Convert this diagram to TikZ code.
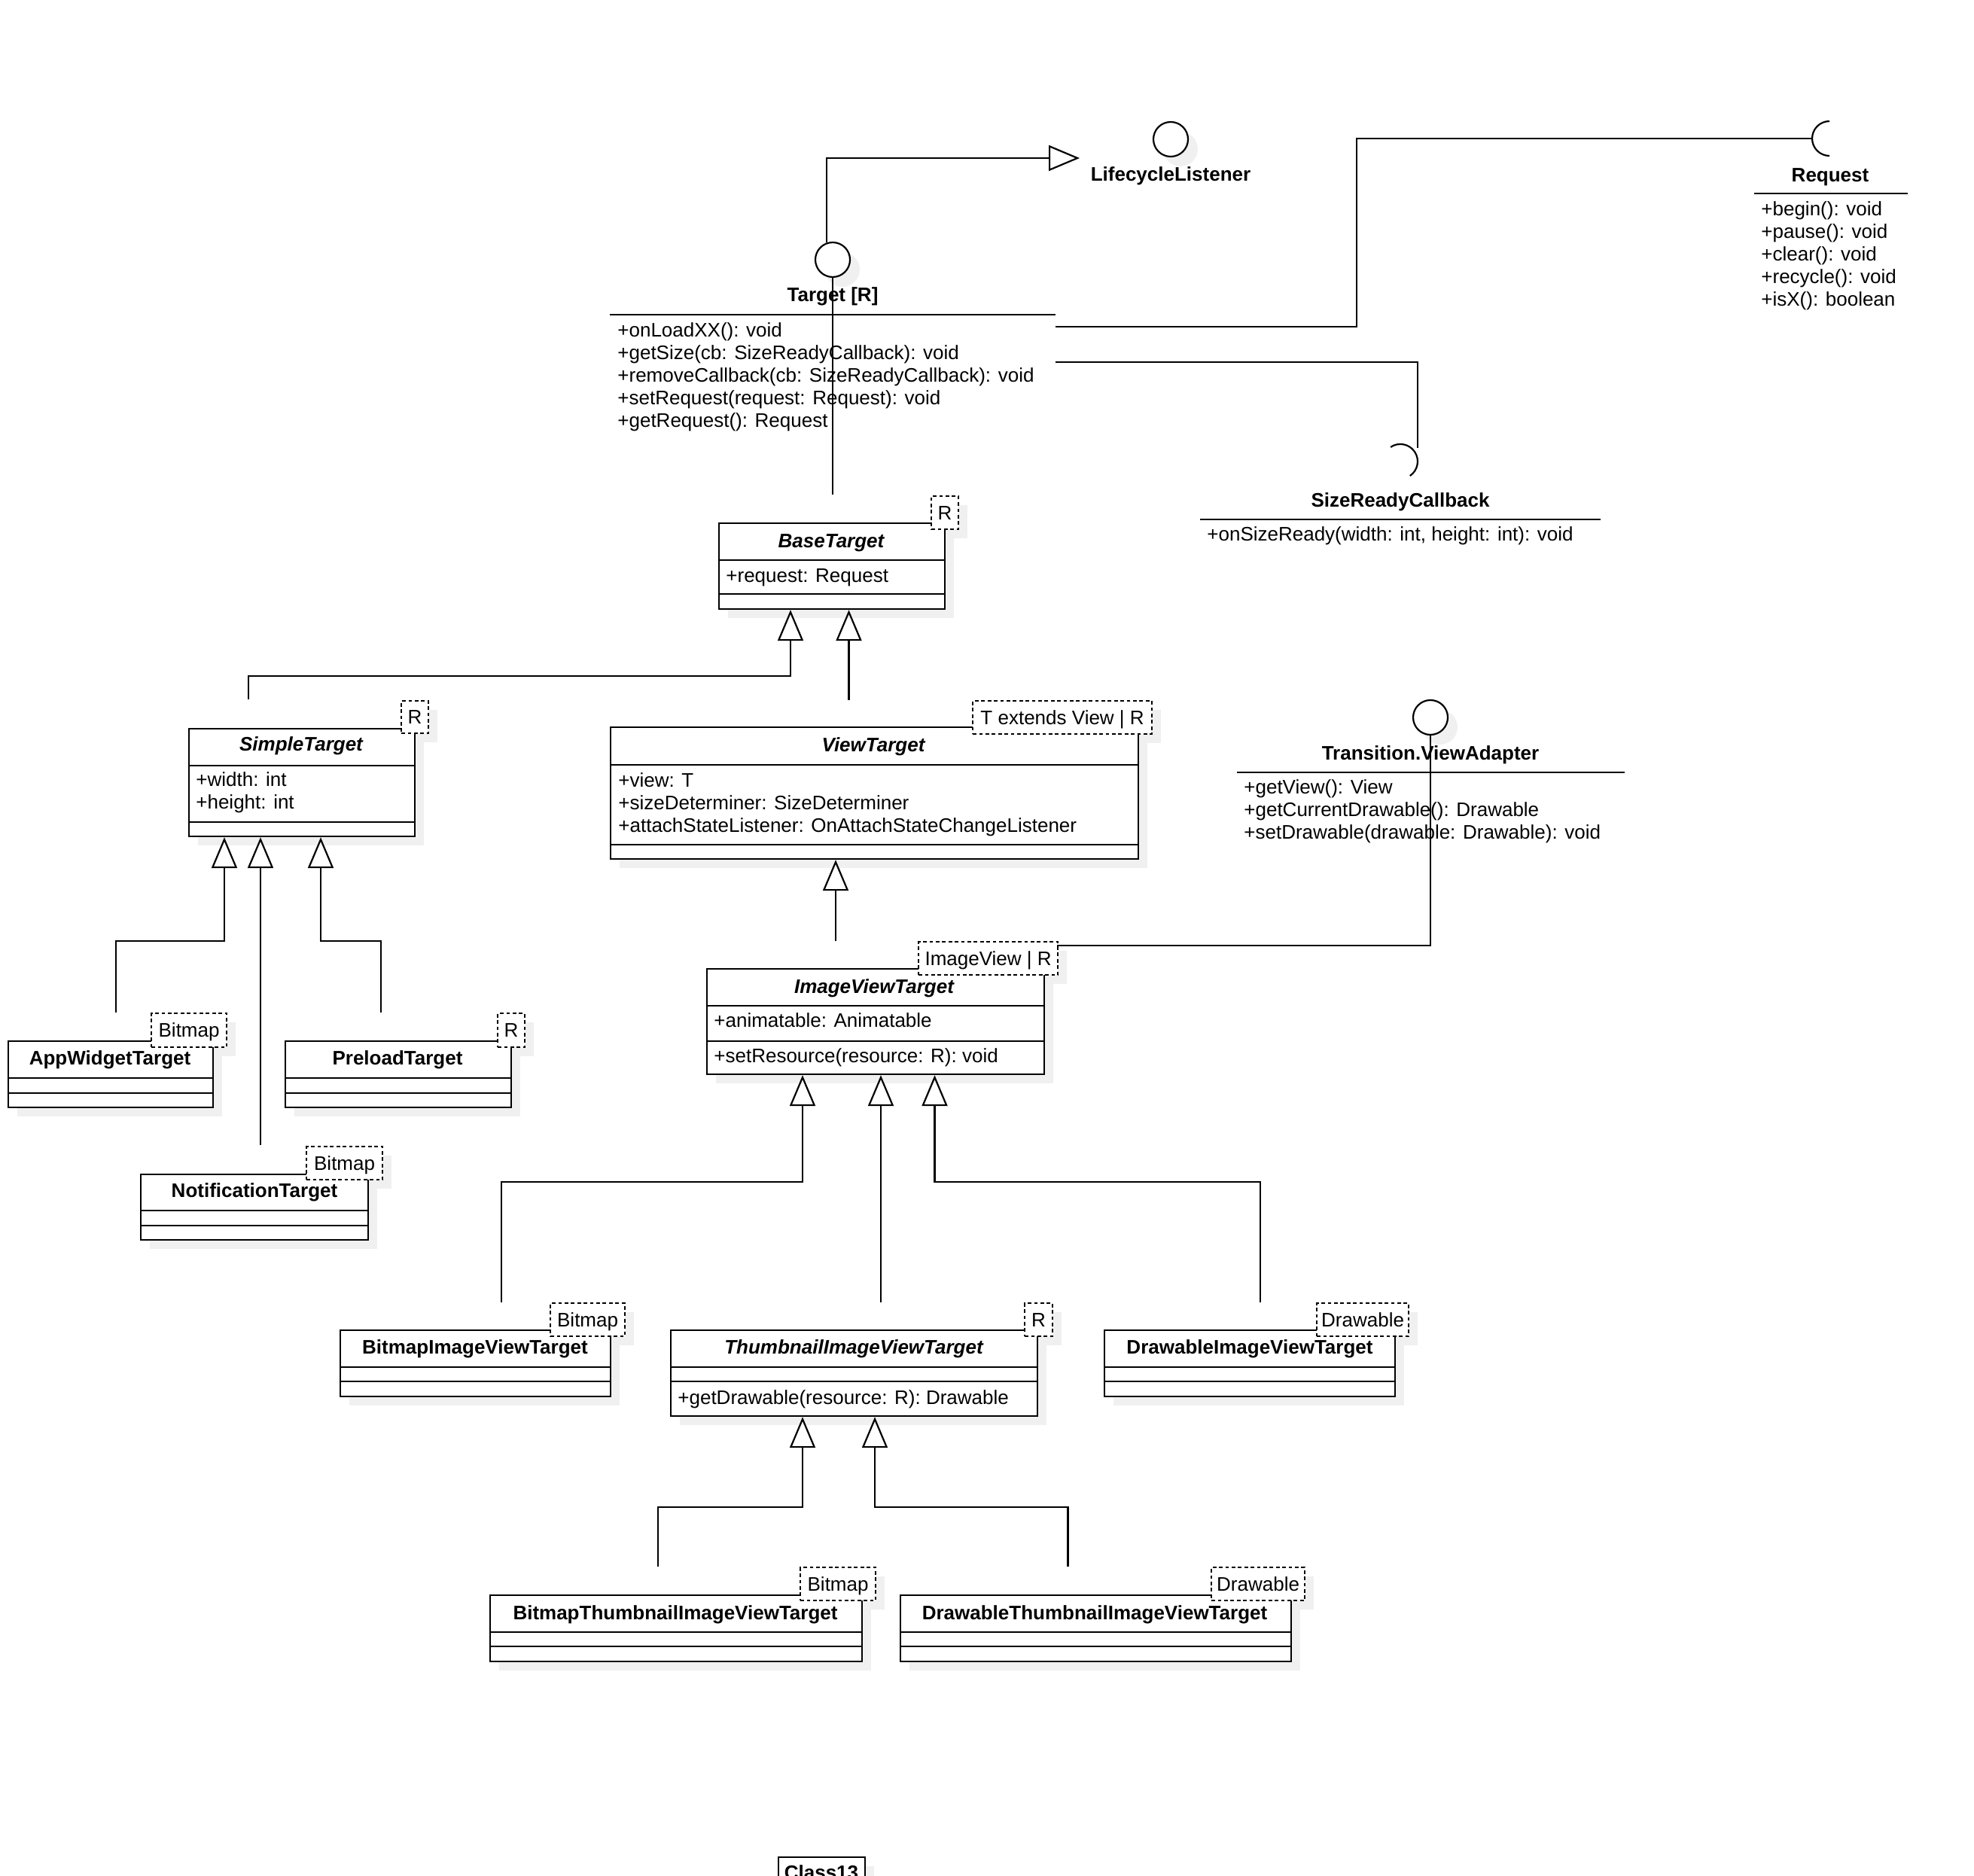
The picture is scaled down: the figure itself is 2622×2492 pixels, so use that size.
\documentclass[tikz,border=0pt]{standalone}
\usepackage{fontspec}
\setmainfont{Liberation Sans}
\usetikzlibrary{arrows.meta}
\definecolor{shadowc}{RGB}{240,240,240}
\pgfdeclarelayer{bg}
\pgfsetlayers{bg,main}
\tikzset{
  every node/.style={font=\fontsize{13}{15.6}\selectfont},
  txt/.style={inner sep=0pt, text height=9.3pt, text depth=0pt, yshift=0.8pt},
  nm/.style={txt, font=\fontsize{13}{15.6}\selectfont\bfseries},
  nmi/.style={txt, font=\fontsize{13}{15.6}\selectfont\bfseries\itshape},
  mem/.style={txt, anchor=west},
  clsbox/.style={draw, line width=1.1pt, fill=white, inner sep=0pt, anchor=north west},
  tmpl/.style={draw, line width=1.1pt, dash pattern=on 2.4pt off 1.8pt, fill=white, inner sep=0pt, anchor=north west, text height=9.3pt, text depth=0pt},
  iface/.style={draw, circle, line width=1.1pt, fill=white, minimum size=23pt, inner sep=0pt},
  gen/.style={line width=1.1pt, -{Triangle[open, length=20.5pt, width=17pt]}},
  conn/.style={line width=1.1pt},
}
% class box: name, left, top, right, bottom
\newcommand\umlcls[5]{%
  \begin{pgfonlayer}{bg}\fill[shadowc] (#2+13,#3+13) rectangle (#4+13,#5+13);\end{pgfonlayer}
  \node[clsbox, minimum width={(#4-#2)*0.5pt}, minimum height={(#5-#3)*0.5pt}] (#1) at (#2,#3) {};}
% template box: name, left, top, right, bottom, text
\newcommand\umltpl[6]{%
  \begin{pgfonlayer}{bg}\fill[shadowc] (#2+13,#3+13) rectangle (#4+13,#5+13);\end{pgfonlayer}
  \node[tmpl, minimum width={(#4-#2)*0.5pt}, minimum height={(#5-#3)*0.5pt}] (#1) at (#2,#3) {#6};}
% interface circle: name, x, y
\newcommand\umlifc[3]{%
  \begin{pgfonlayer}{bg}\fill[shadowc] (#2+13,#3+13) circle[radius=23];\end{pgfonlayer}
  \node[iface] (#1) at (#2,#3) {};}
\newcommand\hdiv[3]{\draw[conn] (#1,#3) -- (#2,#3);}

\begin{document}
\begin{tikzpicture}[x=0.5pt,y=-0.5pt]
\useasboundingbox (0,0) rectangle (2622,2492);

% ---------- LifecycleListener ----------
\umlifc{lc}{1555}{185}
\node[nm] (lcl) at (1555,233) {LifecycleListener};
\coordinate (lcin) at (1434,210);

% ---------- Target ----------
\umlifc{tc}{1106}{345}
\node[nm] (tl) at (1106,393) {Target [R]};
\hdiv{810}{1402}{418}
\node[mem] (t1) at (820,440) {+onLoadXX(): void};
\node[mem] (t2) at (820,470) {+getSize(cb: SizeReadyCallback): void};
\node[mem] (t3) at (820,500) {+removeCallback(cb: SizeReadyCallback): void};
\node[mem] (t4) at (820,530) {+setRequest(request: Request): void};
\node[mem] (t5) at (820,560) {+getRequest(): Request};
\coordinate (treq) at (1402,434);
\coordinate (tsrc) at (1402,481);

% ---------- Request ----------
\coordinate (reqs) at (2407,184);
\draw[conn] (2430,161) arc[start angle=270, end angle=90, radius=23];
\node[nm] (rl) at (2431,234) {Request};
\hdiv{2330}{2534}{257}
\node[mem] (r1) at (2339,279) {+begin(): void};
\node[mem] (r2) at (2339,309) {+pause(): void};
\node[mem] (r3) at (2339,339) {+clear(): void};
\node[mem] (r4) at (2339,369) {+recycle(): void};
\node[mem] (r5) at (2339,399) {+isX(): boolean};

% ---------- SizeReadyCallback ----------
\coordinate (srcs) at (1883,595);
\draw[conn] (1847.1,593.9) arc[start angle=-124, end angle=56, radius=23];
\node[nm] (sl) at (1860,666) {SizeReadyCallback};
\hdiv{1594}{2126}{690}
\node[mem] (s1) at (1603,711) {+onSizeReady(width: int, height: int): void};

% ---------- BaseTarget ----------
\umlcls{bt}{954}{694}{1254}{808}
\hdiv{954}{1254}{744}
\hdiv{954}{1254}{789}
\node[nmi] (btn) at (1104,720) {BaseTarget};
\node[mem] (bt1) at (964,766) {+request: Request};
\umltpl{btT}{1236}{658}{1272}{702}{R}
\coordinate (btr) at (1106,657);

% ---------- SimpleTarget ----------
\umlcls{st}{250}{967}{550}{1110}
\hdiv{250}{550}{1017}
\hdiv{250}{550}{1092}
\node[nmi] (stn) at (400,990) {SimpleTarget};
\node[mem] (st1) at (260,1037) {+width: int};
\node[mem] (st2) at (260,1067) {+height: int};
\umltpl{stT}{532}{930}{568}{973}{R}
\coordinate (sttop) at (330,929);

% ---------- ViewTarget ----------
\umlcls{vt}{810}{965}{1511}{1140}
\hdiv{810}{1511}{1016}
\hdiv{810}{1511}{1122}
\node[nmi] (vtn) at (1160,991) {ViewTarget};
\node[mem] (vt1) at (821,1038) {+view: T};
\node[mem] (vt2) at (821,1068) {+sizeDeterminer: SizeDeterminer};
\node[mem] (vt3) at (821,1098) {+attachStateListener: OnAttachStateChangeListener};
\umltpl{vtT}{1291}{930}{1529}{974}{T extends View | R}
\coordinate (vttop) at (1127.5,930);

% ---------- Transition.ViewAdapter ----------
\umlifc{va}{1900}{953}
\node[nm] (val) at (1900,1002) {Transition.ViewAdapter};
\hdiv{1643}{2158}{1026}
\node[mem] (va1) at (1652,1047) {+getView(): View};
\node[mem] (va2) at (1652,1077) {+getCurrentDrawable(): Drawable};
\node[mem] (va3) at (1652,1107) {+setDrawable(drawable: Drawable): void};

% ---------- ImageViewTarget ----------
\umlcls{iv}{938}{1286}{1386}{1426}
\hdiv{938}{1386}{1336}
\hdiv{938}{1386}{1383}
\node[nmi] (ivn) at (1161,1312) {ImageViewTarget};
\node[mem] (iv1) at (948,1357) {+animatable: Animatable};
\node[mem] (iv2) at (948,1404) {+setResource(resource: R): void};
\umltpl{ivT}{1219}{1250}{1404}{1294}{ImageView | R}
\coordinate (ivtop) at (1110,1250);
\coordinate (ivva) at (1404,1256);

% ---------- SimpleTarget children ----------
\umlcls{aw}{10}{1382}{282}{1470}
\hdiv{10}{282}{1432}
\hdiv{10}{282}{1452}
\node[nm] (awn) at (146,1407) {AppWidgetTarget};
\umltpl{awT}{200}{1345}{300}{1390}{Bitmap}
\coordinate (awtop) at (154,1345);

\umlcls{pl}{378}{1382}{678}{1470}
\hdiv{378}{678}{1432}
\hdiv{378}{678}{1452}
\node[nm] (pln) at (528,1407) {PreloadTarget};
\umltpl{plT}{660}{1345}{696}{1390}{R}
\coordinate (pltop) at (506,1345);

\umlcls{nt}{186}{1559}{488}{1646}
\hdiv{186}{488}{1608}
\hdiv{186}{488}{1628}
\node[nm] (ntn) at (338,1583) {NotificationTarget};
\umltpl{ntT}{406}{1522}{507}{1566}{Bitmap}
\coordinate (nttop) at (346,1521);

% ---------- ImageViewTarget children ----------
\umlcls{biv}{451}{1766}{810}{1854}
\hdiv{451}{810}{1816}
\hdiv{451}{810}{1835}
\node[nm] (bivn) at (631,1791) {BitmapImageViewTarget};
\umltpl{bivT}{730}{1730}{829}{1774}{Bitmap}
\coordinate (bivtop) at (666,1730);

\umlcls{tiv}{890}{1766}{1377}{1880}
\hdiv{890}{1377}{1816}
\hdiv{890}{1377}{1835}
\node[nmi] (tivn) at (1134,1791) {ThumbnailImageViewTarget};
\node[mem] (tiv1) at (900,1858) {+getDrawable(resource: R): Drawable};
\umltpl{tivT}{1360}{1730}{1397}{1774}{R}
\coordinate (tivtop) at (1170,1730);

\umlcls{div}{1466}{1766}{1852}{1854}
\hdiv{1466}{1852}{1816}
\hdiv{1466}{1852}{1835}
\node[nm] (divn) at (1660,1791) {DrawableImageViewTarget};
\umltpl{divT}{1748}{1730}{1870}{1774}{Drawable}
\coordinate (divtop) at (1674,1730);

% ---------- Thumbnail children ----------
\umlcls{btv}{650}{2118}{1144}{2206}
\hdiv{650}{1144}{2168}
\hdiv{650}{1144}{2187}
\node[nm] (btvn) at (897,2144) {BitmapThumbnailImageViewTarget};
\umltpl{btvT}{1062}{2081}{1162}{2125}{Bitmap}
\coordinate (btvtop) at (874,2081);

\umlcls{dtv}{1195}{2118}{1714}{2206}
\hdiv{1195}{1714}{2168}
\hdiv{1195}{1714}{2187}
\node[nm] (dtvn) at (1454,2144) {DrawableThumbnailImageViewTarget};
\umltpl{dtvT}{1608}{2081}{1732}{2125}{Drawable}
\coordinate (dtvtop) at (1418.5,2081);

% ---------- Class13 ----------
\umlcls{c13}{1033}{2466}{1148}{2545}
\node[nm] (c13n) at (1091,2489) {Class13};

% ---------- connectors ----------
\draw[gen] (tc.110) |- (lcin);
\draw[conn] (btr) -- (tc);
\draw[conn] (treq) -- (1802,434) |- (reqs);
\draw[conn] (tsrc) -| (srcs);
\draw[conn] (ivva) -| (va);

\draw[gen] (sttop) |- (1050,898) -- (1050,0 |- bt.south);
\draw[gen] (vttop) -- (1127.5,0 |- bt.south);
\draw[gen] (ivtop) -- (1110,0 |- vt.south);

\draw[gen] (awtop) |- (298,1250) -- (298,0 |- st.south);
\draw[gen] (nttop) -- (346,0 |- st.south);
\draw[gen] (pltop) |- (426,1250) -- (426,0 |- st.south);

\draw[gen] (bivtop) |- (1066,1570) -- (1066,0 |- iv.south);
\draw[gen] (tivtop) -- (1170,0 |- iv.south);
\draw[gen] (divtop) |- (1241.5,1570) -- (1241.5,0 |- iv.south);

\draw[gen] (btvtop) |- (1066,2002) -- (1066,0 |- tiv.south);
\draw[gen] (dtvtop) |- (1162,2002) -- (1162,0 |- tiv.south);
\end{tikzpicture}
\end{document}
